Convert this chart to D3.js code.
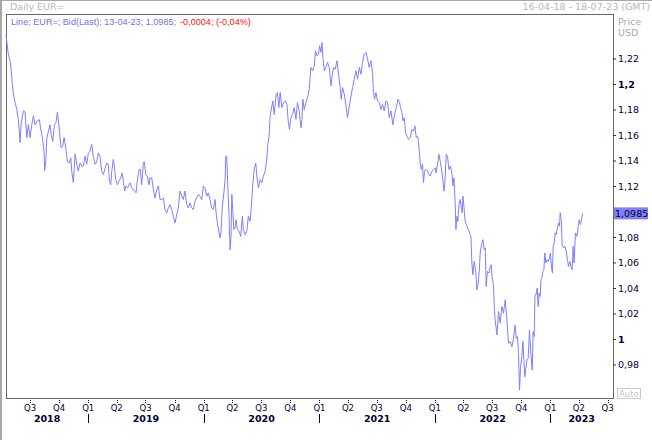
<!DOCTYPE html>
<html><head><meta charset="utf-8">
<script src="https://cdn.jsdelivr.net/npm/d3@7"></script>
<style>html,body{margin:0;padding:0;background:#fff;} svg{display:block;}</style>
</head><body>
<script>
// [decimal year, price]
const s2018 = [[2018.288,1.2379],[2018.308,1.2234],[2018.323,1.2180],[2018.332,1.2116],[2018.343,1.1998],[2018.352,1.1920],[2018.366,1.1857],[2018.381,1.1800],[2018.395,1.1720],[2018.410,1.1540],[2018.418,1.1680],[2018.438,1.1790],[2018.453,1.1780],[2018.468,1.1580],[2018.481,1.1680],[2018.496,1.1580],[2018.511,1.1680],[2018.525,1.1750],[2018.539,1.1680],[2018.559,1.1710],[2018.577,1.1720],[2018.589,1.1640],[2018.603,1.1580],[2018.617,1.1470],[2018.622,1.1320],[2018.632,1.1390],[2018.641,1.1570],[2018.655,1.1630],[2018.669,1.1680],[2018.678,1.1605],[2018.693,1.1550],[2018.707,1.1680],[2018.721,1.1700],[2018.733,1.1780],[2018.745,1.1680],[2018.756,1.1580],[2018.765,1.1500],[2018.779,1.1510],[2018.791,1.1580],[2018.805,1.1500],[2018.819,1.1390],[2018.834,1.1380],[2018.849,1.1420],[2018.857,1.1316],[2018.871,1.1227],[2018.886,1.1450],[2018.901,1.1370],[2018.914,1.1316],[2018.929,1.1380],[2018.944,1.1356],[2018.958,1.1356],[2018.972,1.1434],[2018.987,1.1370]];
const s2019 = [[2019.001,1.1460],[2019.016,1.1470],[2019.030,1.1526],[2019.044,1.1430],[2019.059,1.1370],[2019.074,1.1390],[2019.088,1.1460],[2019.102,1.1430],[2019.117,1.1316],[2019.131,1.1290],[2019.146,1.1340],[2019.160,1.1380],[2019.174,1.1370],[2019.183,1.1238],[2019.195,1.1210],[2019.204,1.1316],[2019.217,1.1408],[2019.226,1.1356],[2019.238,1.1251],[2019.252,1.1210],[2019.267,1.1238],[2019.281,1.1264],[2019.293,1.1303],[2019.304,1.1238],[2019.316,1.1160],[2019.327,1.1200],[2019.342,1.1186],[2019.362,1.1225],[2019.377,1.1186],[2019.391,1.1170],[2019.405,1.1160],[2019.414,1.1146],[2019.425,1.1238],[2019.440,1.1330],[2019.451,1.1330],[2019.463,1.1210],[2019.477,1.1380],[2019.486,1.1390],[2019.498,1.1290],[2019.512,1.1277],[2019.526,1.1210],[2019.535,1.1264],[2019.550,1.1264],[2019.564,1.1170],[2019.578,1.1107],[2019.593,1.1170],[2019.607,1.1200],[2019.622,1.1094],[2019.636,1.1094],[2019.650,1.1107],[2019.665,1.1015],[2019.680,1.0990],[2019.694,1.1028],[2019.708,1.1054],[2019.723,1.1015],[2019.737,1.0962],[2019.752,1.0910],[2019.766,1.0976],[2019.780,1.1028],[2019.795,1.1160],[2019.810,1.1120],[2019.823,1.1094],[2019.838,1.1160],[2019.853,1.1054],[2019.867,1.1028],[2019.881,1.1067],[2019.896,1.1028],[2019.910,1.1015],[2019.925,1.1080],[2019.939,1.1107],[2019.953,1.1133],[2019.968,1.1120],[2019.983,1.1094],[2019.997,1.1200]];
const s2020 = [[2020.011,1.1186],[2020.026,1.1120],[2020.040,1.1146],[2020.055,1.1094],[2020.069,1.1028],[2020.083,1.1015],[2020.098,1.1094],[2020.107,1.0990],[2020.118,1.0910],[2020.133,1.0832],[2020.141,1.0792],[2020.150,1.0844],[2020.161,1.1040],[2020.176,1.1160],[2020.185,1.1250],[2020.191,1.1434],[2020.199,1.1434],[2020.208,1.1200],[2020.219,1.0962],[2020.228,1.0700],[2020.236,1.0805],[2020.243,1.1133],[2020.251,1.1015],[2020.260,1.0858],[2020.271,1.0871],[2020.280,1.0936],[2020.291,1.0858],[2020.306,1.0844],[2020.320,1.0805],[2020.334,1.0962],[2020.343,1.0858],[2020.358,1.0818],[2020.372,1.0844],[2020.386,1.0962],[2020.401,1.0923],[2020.416,1.1094],[2020.424,1.1210],[2020.436,1.1330],[2020.450,1.1380],[2020.459,1.1277],[2020.473,1.1186],[2020.488,1.1250],[2020.502,1.1225],[2020.516,1.1277],[2020.531,1.1316],[2020.546,1.1420],[2020.554,1.1526],[2020.565,1.1590],[2020.574,1.1750],[2020.589,1.1828],[2020.597,1.1867],[2020.609,1.1760],[2020.626,1.1920],[2020.637,1.1933],[2020.649,1.1815],[2020.661,1.1933],[2020.675,1.1815],[2020.689,1.1854],[2020.704,1.1867],[2020.719,1.1840],[2020.730,1.1710],[2020.741,1.1645],[2020.753,1.1736],[2020.767,1.1760],[2020.782,1.1815],[2020.797,1.1723],[2020.810,1.1854],[2020.825,1.1788],[2020.840,1.1657],[2020.849,1.1723],[2020.857,1.1880],[2020.868,1.1800],[2020.883,1.1854],[2020.897,1.1893],[2020.912,1.1960],[2020.926,1.2130],[2020.940,1.2103],[2020.955,1.2142],[2020.966,1.2260],[2020.978,1.2221],[2020.992,1.2234]];
const s2021 = [[2021.001,1.2300],[2021.013,1.2248],[2021.022,1.2326],[2021.030,1.2208],[2021.042,1.2103],[2021.056,1.2130],[2021.070,1.2169],[2021.085,1.2130],[2021.100,1.1985],[2021.108,1.2050],[2021.122,1.2130],[2021.137,1.2116],[2021.152,1.2182],[2021.165,1.2077],[2021.180,1.1972],[2021.189,1.1880],[2021.200,1.1972],[2021.215,1.1920],[2021.230,1.1828],[2021.243,1.1736],[2021.258,1.1828],[2021.273,1.1906],[2021.287,1.1972],[2021.301,1.2038],[2021.316,1.2103],[2021.330,1.2038],[2021.345,1.2130],[2021.359,1.2077],[2021.373,1.2169],[2021.388,1.2234],[2021.403,1.2248],[2021.417,1.2195],[2021.431,1.2130],[2021.446,1.2182],[2021.460,1.2090],[2021.468,1.1933],[2021.477,1.1880],[2021.489,1.1933],[2021.503,1.1867],[2021.518,1.1854],[2021.533,1.1800],[2021.546,1.1840],[2021.561,1.1788],[2021.576,1.1867],[2021.590,1.1854],[2021.604,1.1736],[2021.619,1.1788],[2021.636,1.1680],[2021.650,1.1760],[2021.665,1.1815],[2021.680,1.1880],[2021.694,1.1854],[2021.702,1.1815],[2021.714,1.1776],[2021.723,1.1710],[2021.734,1.1736],[2021.746,1.1618],[2021.758,1.1590],[2021.772,1.1566],[2021.786,1.1580],[2021.801,1.1644],[2021.815,1.1630],[2021.827,1.1670],[2021.838,1.1580],[2021.849,1.1590],[2021.858,1.1550],[2021.864,1.1474],[2021.873,1.1380],[2021.881,1.1330],[2021.893,1.1370],[2021.901,1.1225],[2021.910,1.1316],[2021.922,1.1330],[2021.936,1.1316],[2021.948,1.1290],[2021.959,1.1277],[2021.974,1.1316],[2021.988,1.1330]];
const s2022 = [[2022.003,1.1343],[2022.011,1.1303],[2022.023,1.1370],[2022.035,1.1448],[2022.046,1.1395],[2022.057,1.1330],[2022.069,1.1251],[2022.078,1.1160],[2022.087,1.1238],[2022.098,1.1448],[2022.109,1.1434],[2022.121,1.1330],[2022.133,1.1356],[2022.147,1.1303],[2022.156,1.1200],[2022.165,1.1264],[2022.170,1.1170],[2022.176,1.1054],[2022.182,1.0858],[2022.191,1.0962],[2022.199,1.0923],[2022.208,1.1054],[2022.219,1.1094],[2022.228,1.1028],[2022.236,1.0990],[2022.243,1.1120],[2022.251,1.1040],[2022.262,1.0923],[2022.277,1.0884],[2022.291,1.0858],[2022.300,1.0832],[2022.312,1.0805],[2022.320,1.0596],[2022.329,1.0504],[2022.340,1.0608],[2022.352,1.0543],[2022.364,1.0386],[2022.375,1.0438],[2022.384,1.0530],[2022.392,1.0674],[2022.404,1.0740],[2022.416,1.0779],[2022.427,1.0700],[2022.436,1.0714],[2022.444,1.0411],[2022.455,1.0530],[2022.468,1.0517],[2022.479,1.0569],[2022.488,1.0582],[2022.496,1.0478],[2022.507,1.0425],[2022.516,1.0215],[2022.522,1.0150],[2022.537,1.0031],[2022.551,1.0215],[2022.565,1.0123],[2022.580,1.0254],[2022.594,1.0202],[2022.609,1.0307],[2022.623,1.0163],[2022.637,0.9966],[2022.652,0.9980],[2022.667,0.9939],[2022.681,1.0005],[2022.695,1.0110],[2022.704,1.0005],[2022.715,1.0018],[2022.724,0.9887],[2022.733,0.9599],[2022.741,0.9770],[2022.753,0.9860],[2022.762,0.9980],[2022.771,0.9835],[2022.779,0.9703],[2022.788,0.9770],[2022.797,0.9835],[2022.808,0.9848],[2022.819,1.0070],[2022.831,0.9887],[2022.843,0.9756],[2022.851,1.0057],[2022.860,1.0018],[2022.866,1.0333],[2022.875,1.0346],[2022.886,1.0399],[2022.894,1.0254],[2022.903,1.0360],[2022.912,1.0333],[2022.918,1.0464],[2022.926,1.0477],[2022.935,1.0530],[2022.944,1.0543],[2022.952,1.0674],[2022.961,1.0596],[2022.970,1.0622],[2022.981,1.0608],[2022.992,1.0634]];
const s2023 = [[2023.001,1.0674],[2023.010,1.0556],[2023.018,1.0517],[2023.024,1.0726],[2023.033,1.0753],[2023.042,1.0832],[2023.050,1.0818],[2023.062,1.0871],[2023.070,1.0910],[2023.079,1.0884],[2023.085,1.0990],[2023.094,1.0936],[2023.102,1.0740],[2023.114,1.0714],[2023.126,1.0726],[2023.137,1.0687],[2023.148,1.0622],[2023.157,1.0569],[2023.169,1.0608],[2023.180,1.0556],[2023.189,1.0543],[2023.197,1.0726],[2023.206,1.0596],[2023.217,1.0832],[2023.230,1.0805],[2023.238,1.0858],[2023.249,1.0936],[2023.261,1.0897],[2023.269,1.0936],[2023.2795,1.0985]];

const yTickValues = [0.98,1.00,1.02,1.04,1.06,1.08,1.12,1.14,1.16,1.18,1.20,1.22];
const boldTicks = [1.00,1.20];
const lastValue = 1.0985;
const lastLabel = "1,0985";
const headerTitle = "Daily EUR=";
const rangeText = "16-04-18 - 18-07-23 (GMT)";
const legendMain = "Line; EUR=; Bid(Last); 13-04-23; 1,0985;";
const legendChange = "-0,0004; (-0,04%)";
const axisTitle = ["Price","USD"];
const autoLabel = "Auto";
const domainStart = [2018,3,16], domainEnd = [2023,6,18];

const series = [].concat(s2018,s2019,s2020,s2021,s2022,s2023);

function dec2date(t){
  const yr=Math.floor(t);
  const a=Date.UTC(yr,0,1), b=Date.UTC(yr+1,0,1);
  return new Date(a+(t-yr)*(b-a));
}

const W=652,H=440;
const L=6,R=613,T=14,B=399;
const FONT="'DejaVu Sans',Verdana,sans-serif";
const svg=d3.select("body").append("svg").attr("width",W).attr("height",H)
  .style("font-family",FONT);

const x=d3.scaleUtc().domain([new Date(Date.UTC(...domainStart)),new Date(Date.UTC(...domainEnd))]).range([L,R]);
const y=d3.scaleLinear().domain([0.9529,1.2549]).range([B,T]);

// outer gray edges
svg.append("line").attr("x1",0).attr("x2",W).attr("y1",0.5).attr("y2",0.5).attr("stroke","#a8a8a8").attr("stroke-width",1);
svg.append("line").attr("x1",1).attr("x2",1).attr("y1",0).attr("y2",H).attr("stroke","#a8a8a8").attr("stroke-width",2);

// header
svg.append("text").attr("x",10).attr("y",10).attr("font-size",9.5).attr("fill","#b8b8b8").text(headerTitle);
svg.append("text").attr("x",650).attr("y",10).attr("text-anchor","end").attr("font-size",9.5).attr("fill","#b8b8b8").text(rangeText);

// plot frame
svg.append("rect").attr("x",L+0.5).attr("y",T+0.5).attr("width",R-L).attr("height",B-T-1)
  .attr("fill","none").attr("stroke","#686868").attr("stroke-width",1);

// legend: two runs, font sized so the whole line spans the reference width
const legFont="'Liberation Sans',Arial,sans-serif";
const t1=svg.append("text").attr("x",11).attr("y",25).attr("font-family",legFont).attr("font-size",10).attr("fill","#7070f0").text(legendMain);
const t2=svg.append("text").attr("y",25).attr("font-family",legFont).attr("font-size",10).attr("fill","#ff1010").text(legendChange);
const w1=t1.node().getComputedTextLength(), w2=t2.node().getComputedTextLength();
const fs=10*236/(w1+w2);
t1.attr("font-size",fs); t2.attr("font-size",fs);
t2.attr("x",11+t1.node().getComputedTextLength()+4);

// y axis
const fmt=d=>d3.format(".2~f")(d).replace(".",",");
const yAxis=svg.append("g").attr("transform",`translate(${R},0)`)
  .call(d3.axisRight(y).tickValues(yTickValues).tickSize(3).tickPadding(2).tickFormat(fmt));
yAxis.select(".domain").remove();
yAxis.selectAll(".tick line").attr("stroke","#333");
yAxis.selectAll(".tick text").attr("fill","#000033").attr("font-size",9.5)
  .attr("font-family",FONT)
  .attr("font-weight",d=>boldTicks.some(b=>Math.abs(b-d)<1e-9)?"bold":"normal");

svg.append("text").attr("x",618).attr("y",25).attr("font-size",9.5).attr("fill","#a8a8a8").text(axisTitle[0]);
svg.append("text").attr("x",618).attr("y",36).attr("font-size",9.5).attr("fill","#a8a8a8").text(axisTitle[1]);

// last value tag
svg.append("rect").attr("x",R+1).attr("y",y(lastValue)-6).attr("width",34).attr("height",12).attr("fill","#8080ff");
svg.append("text").attr("x",R+2).attr("y",y(lastValue)+4).attr("font-size",9.5).attr("fill","#000022").text(lastLabel);

// auto box
svg.append("rect").attr("x",617.5).attr("y",388.5).attr("width",23).attr("height",10).attr("fill","none").attr("stroke","#cccccc");
svg.append("text").attr("x",619).attr("y",397).attr("font-size",8.5).attr("fill","#c4c4c4").text(autoLabel);

// x axis: quarters
const d0=x.domain()[0], d1=x.domain()[1];
const quarters=d3.utcMonth.every(3).range(d0,d1);
const gx=svg.append("g");
quarters.forEach(q=>{
  const xx=Math.round(x(q))+0.5;
  gx.append("line").attr("x1",xx).attr("x2",xx).attr("y1",400).attr("y2",404)
    .attr("stroke","#000").attr("stroke-dasharray","1,1");
  gx.append("text").attr("x",x(q)).attr("y",411).attr("text-anchor","middle")
    .attr("font-size",8.5).attr("fill","#000033").text("Q"+(q.getUTCMonth()/3+1));
});
// years
const years=d3.utcYear.range(d3.utcYear.floor(d0),d1);
years.forEach(yv=>{
  const a=Math.max(+yv,+d0), b=Math.min(+d3.utcYear.offset(yv,1),+d1);
  if(+yv>+d0){
    const xx=Math.round(x(yv))+0.5;
    gx.append("line").attr("x1",xx).attr("x2",xx).attr("y1",414).attr("y2",423).attr("stroke","#000");
  }
  gx.append("text").attr("x",(x(new Date(a))+x(new Date(b)))/2).attr("y",422).attr("text-anchor","middle")
    .attr("font-size",9.5).attr("font-weight","bold").attr("fill","#000033").text(yv.getUTCFullYear());
});

// line
const line=d3.line().x(d=>x(dec2date(d[0]))).y(d=>y(d[1]));
svg.append("path").datum(series).attr("d",line).attr("fill","none").attr("stroke","#7f7fff").attr("stroke-width",1);
</script>
</body></html>
